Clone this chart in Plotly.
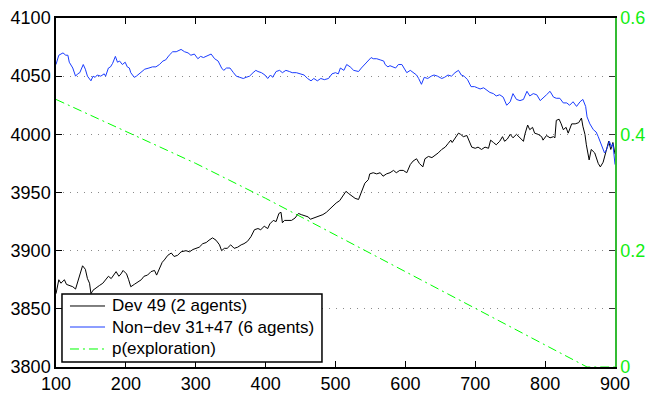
import plotly.graph_objects as go

# ---- data ----
dev_x = [100,104,107,112,115,119,124,128,131,134,138,142,145,148,150,153,157,162,167,171,175,179,182,186,190,193,196,201,204,207,212,217,222,226,231,236,241,244,248,252,255,260,265,269,274,279,286,291,296,300,305,310,315,319,324,329,334,337,341,345,350,355,360,365,369,374,379,384,389,393,398,403,406,411,415,419,422,424,427,432,437,442,447,451,456,461,464,468,473,477,482,487,492,496,501,506,511,515,519,523,528,533,538,542,547,549,554,559,564,568,573,578,583,587,592,597,602,607,611,616,620,625,628,633,638,643,647,652,657,661,665,667,671,676,679,683,688,691,695,700,704,709,714,719,722,726,730,735,739,742,746,750,754,759,764,769,771,775,778,782,785,790,795,797,802,807,812,814,816,820,823,826,830,833,838,843,848,852,854,857,859,863,866,871,876,879,883,887,891,894,897,900]
dev_y = [3863,3875,3872,3875,3871,3870,3869,3867,3873,3881,3887,3884,3876,3872,3863,3866,3868,3870,3872,3875,3878,3876,3879,3882,3878,3880,3883,3880,3875,3869,3871,3873,3875,3878,3879,3882,3883,3879,3885,3890,3892,3896,3898,3895,3896,3899,3900,3899,3901,3902,3903,3906,3907,3909,3911,3909,3905,3900,3902,3902,3905,3902,3903,3905,3906,3908,3912,3918,3919,3918,3921,3919,3923,3926,3925,3932,3933,3924,3926,3926,3926,3928,3932,3931,3930,3929,3927,3928,3929,3930,3931,3933,3936,3938,3941,3943,3948,3951,3949,3947,3945,3944,3951,3958,3961,3966,3967,3966,3967,3964,3966,3967,3969,3967,3969,3969,3967,3974,3977,3979,3975,3972,3979,3981,3980,3982,3984,3987,3989,3992,3995,3993,3997,4001,4000,3998,3999,3994,3989,3988,3989,3987,3989,3988,3995,3993,3991,3994,3998,3994,3996,4000,3997,4000,3997,3994,4000,4008,4004,4006,4001,4000,3998,3995,3999,3997,3998,3997,4012,4013,4009,4004,4006,4001,4009,4009,4010,4014,4007,4000,3991,3978,3987,3984,3975,3972,3976,3985,3994,3987,3993,3983]

nondev_x = [100,104,110,114,117,119,124,128,131,134,139,142,145,150,153,156,159,164,169,171,175,178,181,185,188,191,195,199,202,205,207,212,215,219,222,227,233,238,243,248,253,257,262,267,272,279,284,289,293,298,303,307,311,315,318,322,327,332,337,340,344,349,354,358,363,368,372,377,382,386,389,394,399,403,407,410,415,420,424,429,434,438,444,449,455,460,465,469,474,479,484,490,495,500,504,507,512,516,521,526,533,537,542,547,551,554,559,564,569,571,575,578,583,586,590,595,598,602,607,611,616,619,623,627,632,637,641,646,652,656,661,666,671,676,680,684,689,694,699,703,707,712,717,721,726,730,735,740,745,750,754,759,764,769,774,778,783,788,793,797,802,807,812,816,821,826,831,835,840,845,850,854,858,860,864,869,873,876,881,885,888,892,895,897,900]
nondev_y = [4060,4068,4070,4068,4068,4062,4057,4050,4052,4053,4060,4056,4050,4046,4050,4049,4051,4050,4052,4050,4057,4058,4061,4067,4062,4063,4060,4062,4058,4057,4053,4049,4050,4052,4054,4056,4057,4058,4058,4060,4063,4064,4068,4071,4071,4073,4071,4070,4068,4069,4065,4067,4066,4067,4068,4069,4065,4063,4057,4055,4057,4057,4053,4050,4049,4048,4049,4050,4053,4055,4054,4053,4051,4048,4051,4049,4054,4055,4053,4055,4054,4053,4053,4052,4051,4048,4046,4048,4046,4048,4047,4048,4052,4053,4052,4057,4055,4060,4058,4055,4054,4057,4060,4063,4066,4065,4065,4064,4063,4060,4058,4059,4058,4057,4060,4060,4057,4053,4055,4053,4051,4048,4043,4049,4048,4050,4051,4050,4048,4049,4051,4050,4053,4055,4051,4050,4047,4041,4041,4040,4039,4040,4038,4036,4035,4033,4034,4032,4025,4028,4035,4030,4029,4030,4037,4033,4035,4034,4029,4031,4034,4037,4032,4031,4031,4027,4027,4025,4028,4024,4028,4030,4024,4015,4009,4004,4002,3998,3991,3984,3987,3994,3989,3992,3974]

p_x = [100,200,300,400,500,600,700,800,860,900]
p_y = [0.46,0.405,0.35,0.29,0.227,0.163,0.10,0.037,0.0,0.0]

x_ticks = [100,200,300,400,500,600,700,800,900]
y_ticks = [3800,3850,3900,3950,4000,4050,4100]
y2_ticks = [0,0.1,0.2,0.3,0.4,0.5,0.6]
y2_labels = ["0","","0.2","","0.4","","0.6"]

names = ["Dev 49 (2 agents)", "Non\u2212dev 31+47 (6 agents)", "p(exploration)"]

FONT = "Liberation Sans, Arial, Helvetica, sans-serif"
GREEN = "#00ff00"
BLUE = "#1a3cff"
DASHDOT = "9px,4px,2px,4px"
colors = ["#000000", BLUE, GREEN]
dashes = ["solid", "solid", DASHDOT]

fig = go.Figure()
fig.add_trace(go.Scatter(x=dev_x, y=dev_y, mode="lines", name=names[0],
                         showlegend=False, line=dict(color=colors[0], width=1)))
fig.add_trace(go.Scatter(x=nondev_x, y=nondev_y, mode="lines", name=names[1],
                         showlegend=False, line=dict(color=colors[1], width=1)))
fig.add_trace(go.Scatter(x=p_x, y=p_y, mode="lines", name=names[2], yaxis="y2",
                         showlegend=False,
                         line=dict(color=colors[2], width=1, dash=dashes[2])))

# ---- legend box drawn in paper coordinates (MATLAB-style compact legend) ----
box = dict(x0=0.0107, x1=0.4758, y0=0.0143, y1=0.2092)
row_y = [0.1748, 0.1146, 0.0516]
sample_x = (0.025, 0.0877)
text_x = 0.0966
shapes = [dict(type="rect", xref="paper", yref="paper", layer="above",
               fillcolor="white", line=dict(color="black", width=1.5), **box)]
annotations = []
for nm, c, d, yy in zip(names, colors, dashes, row_y):
    shapes.append(dict(type="line", xref="paper", yref="paper", layer="above",
                       x0=sample_x[0], x1=sample_x[1], y0=yy, y1=yy,
                       line=dict(color=c, width=1, dash=d)))
    annotations.append(dict(xref="paper", yref="paper", x=text_x, y=yy,
                            xanchor="left", yanchor="middle", showarrow=False,
                            text=nm, font=dict(size=17, color="black")))

fig.update_layout(
    width=655, height=393,
    margin=dict(l=56, r=40, t=18, b=26, autoexpand=False),
    paper_bgcolor="white", plot_bgcolor="white",
    font=dict(family=FONT, size=18, color="black"),
    showlegend=False,
    shapes=shapes, annotations=annotations,
    xaxis=dict(range=[100, 900], tickvals=x_ticks, ticks="inside", ticklen=6,
               tickcolor="black", showline=True, linecolor="black", linewidth=1.5,
               mirror="ticks", showgrid=False, zeroline=False, automargin=False,
               tickfont=dict(size=18, color="black")),
    yaxis=dict(range=[3800, 4100], tickvals=y_ticks, ticks="inside", ticklen=6,
               tickcolor="black", showline=True, linecolor="black", linewidth=1.5,
               showgrid=True, gridcolor="#8a8a8a", griddash="1px,6px", gridwidth=1,
               zeroline=False, automargin=False,
               tickfont=dict(size=18, color="black")),
    yaxis2=dict(range=[0, 0.6], overlaying="y", side="right", tickvals=y2_ticks,
                ticktext=y2_labels, ticks="inside", ticklen=6, tickcolor="#333333",
                showline=True, linecolor="#33bb33", linewidth=1.5, showgrid=False,
                zeroline=False, automargin=False,
                tickfont=dict(size=18, color="#11ee11")),
)

fig.write_html("out.html", config={"displayModeBar": False},
               post_script="document.body.style.margin='0px';")
